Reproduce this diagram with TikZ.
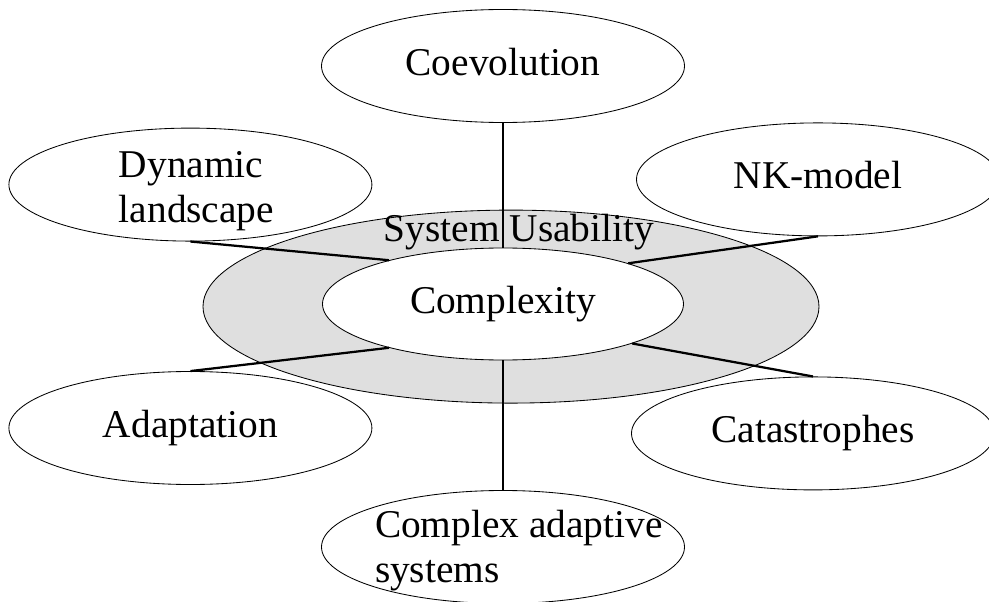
\documentclass[tikz,border=0pt]{standalone}
\usepackage{fontspec}
\setmainfont{Liberation Serif}
\definecolor{ringgray}{RGB}{223,223,223}
\usetikzlibrary{shapes.geometric}

\begin{document}
\begin{tikzpicture}[
  topic/.style={draw, ellipse, line width=0.6pt, inner sep=0pt,
    minimum width=9.075cm, minimum height=2.825cm,
    font=\fontsize{28}{32}\selectfont, text depth=6pt},
  ring/.style={draw, ellipse, fill=ringgray, line width=0.6pt,
    minimum width=15.4cm, minimum height=4.825cm},
  link/.style={line width=1.6pt},
]
  \useasboundingbox (0,0) rectangle (24.725,15.025);
  \node[ring] (ring) at (12.775,7.36) {};
  \node[topic, fill=white, minimum width=9.025cm, minimum height=2.8cm] (cplx) at (12.575,7.425) {Complexity};
  \node[font=\fontsize{28}{32}\selectfont, anchor=base, inner sep=0pt] (usab) at (12.975,9.0) {System Usability};
  \node[topic] (coev) at (12.575,13.375) {Coevolution};
  \node[topic, text depth=0pt] (dyn) at (4.76,10.41)
    {\makebox[3.575cm][l]{\raisebox{5.3pt}[0pt][0pt]{\begin{tabular}[t]{@{}l@{}}Dynamic\\landscape\end{tabular}}}};
  \node[topic] (nk) at (20.45,10.54) {NK-model};
  \node[topic] (adapt) at (4.76,4.325) {Adaptation};
  \node[topic] (cat) at (20.325,4.19) {Catastrophes};
  \node[topic, text depth=0pt] (cas) at (12.575,1.35)
    {\makebox[6.4cm][l]{\raisebox{7.1pt}[0pt][0pt]{\begin{tabular}[t]{@{}l@{}}Complex adaptive\\systems\end{tabular}}}};
  \draw[link] (coev.south) -- (cplx.north);
  \draw[link] (dyn.south) -- (cplx.159);
  \draw[link] (nk.south) -- (cplx.18);
  \draw[link] (adapt.north) -- (cplx.201);
  \draw[link] (cat.north) -- (cplx.343);
  \draw[link] (cas.north) -- (cplx.south);
\end{tikzpicture}
\end{document}
